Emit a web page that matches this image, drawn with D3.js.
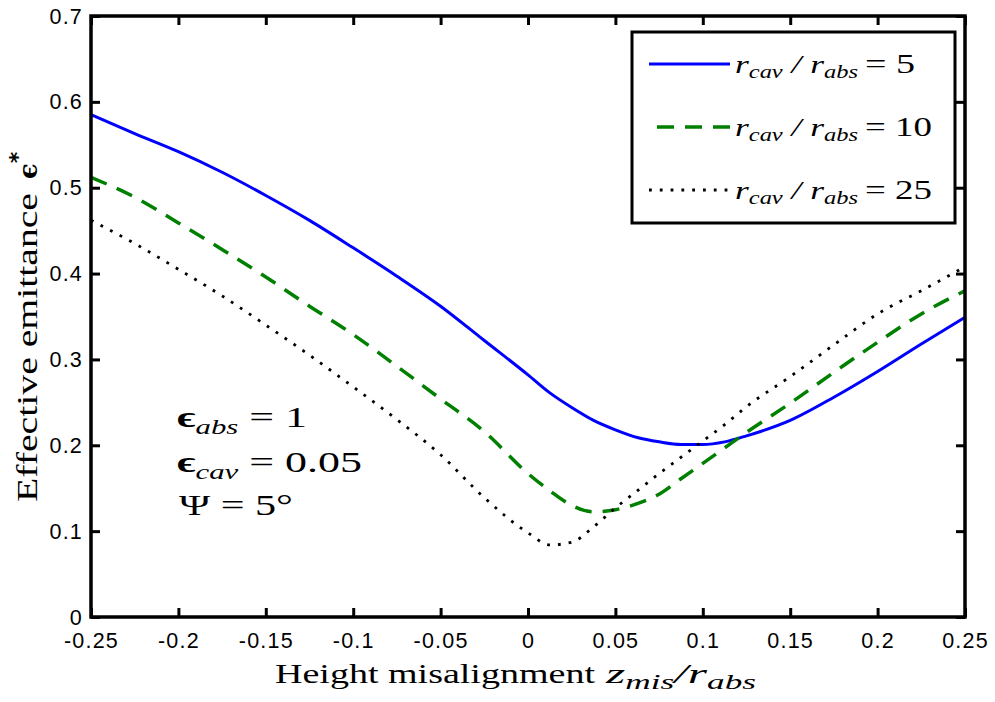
<!DOCTYPE html>
<html><head><meta charset="utf-8">
<script src="https://cdn.jsdelivr.net/npm/d3@7"></script>
<style>html,body{margin:0;padding:0;background:#fff;}</style>
</head><body>
<svg id="chart" width="995" height="702"></svg>
<script>
// ---- data ----
const xValues = [-0.25,-0.225,-0.2,-0.175,-0.15,-0.125,-0.1,-0.075,-0.05,-0.025,0,0.0125,0.025,0.0375,0.05,0.0625,0.075,0.0875,0.1,0.1125,0.125,0.15,0.175,0.2,0.225,0.25];
const ratio5  = [0.585,0.563,0.542,0.518,0.491,0.462,0.430,0.397,0.362,0.322,0.282,0.261,0.244,0.229,0.218,0.209,0.204,0.201,0.201,0.204,0.211,0.229,0.256,0.286,0.318,0.349];
const ratio10 = [0.512,0.489,0.459,0.428,0.396,0.362,0.329,0.292,0.254,0.216,0.167,0.147,0.130,0.1225,0.125,0.132,0.143,0.161,0.179,0.197,0.215,0.249,0.285,0.320,0.353,0.380];
const ratio25 = [0.462,0.435,0.405,0.374,0.340,0.305,0.268,0.230,0.189,0.139,0.098,0.084,0.087,0.105,0.127,0.147,0.167,0.186,0.205,0.224,0.245,0.280,0.317,0.353,0.380,0.408];
const seriesNames = ["5","10","25"];
const xTicks = [-0.25,-0.2,-0.15,-0.1,-0.05,0,0.05,0.1,0.15,0.2,0.25];
const xTickLabels = ["-0.25","-0.2","-0.15","-0.1","-0.05","0","0.05","0.1","0.15","0.2","0.25"];
const yTicks = [0,0.1,0.2,0.3,0.4,0.5,0.6,0.7];
const yTickLabels = ["0","0.1","0.2","0.3","0.4","0.5","0.6","0.7"];

// ---- layout ----
const L = 91, R = 965, T = 16, B = 617;
const svg = d3.select("#chart");
const x = d3.scaleLinear().domain([-0.25,0.25]).range([L,R]);
const y = d3.scaleLinear().domain([0,0.7]).range([B,T]);

const styles = [
  {color:"#0000ff", width:3,   dash:null},
  {color:"#008000", width:3.5, dash:"17,11"},
  {color:"#000000", width:2.8, dash:"2.8,8"}
];
const seriesData = [ratio5, ratio10, ratio25];

// curves
const line = d3.line().x(d=>x(d[0])).y(d=>y(d[1])).curve(d3.curveMonotoneX);
seriesData.forEach((vals,i)=>{
  const pts = xValues.map((xv,j)=>[xv, vals[j]]);
  const p = svg.append("path").datum(pts).attr("d", line)
    .attr("fill","none").attr("stroke", styles[i].color)
    .attr("stroke-width", styles[i].width).attr("stroke-linejoin","round");
  if (styles[i].dash) p.attr("stroke-dasharray", styles[i].dash);
});

// axes
function styleAxis(g){
  g.select(".domain").remove();
  g.selectAll(".tick line").attr("stroke","#000").attr("stroke-width",3);
}
const tickFont = "'Liberation Sans', Arial, sans-serif";
const xAxis = svg.append("g").attr("transform",`translate(0,${B})`)
  .call(d3.axisBottom(x).tickValues(xTicks).tickSizeInner(-9).tickSizeOuter(0)
        .tickFormat((d,i)=>xTickLabels[i]));
styleAxis(xAxis);
xAxis.selectAll(".tick text").attr("y",31).attr("dy",0)
  .attr("font-family",tickFont).attr("font-size",21.5)
  .attr("letter-spacing","1.2px").attr("fill","#000");

const xTop = svg.append("g").attr("transform",`translate(0,${T})`)
  .call(d3.axisTop(x).tickValues(xTicks).tickSizeInner(-9).tickSizeOuter(0).tickFormat(""));
styleAxis(xTop);

const yAxis = svg.append("g").attr("transform",`translate(${L},0)`)
  .call(d3.axisLeft(y).tickValues(yTicks).tickSizeInner(-9).tickSizeOuter(0)
        .tickFormat((d,i)=>yTickLabels[i]));
styleAxis(yAxis);
yAxis.selectAll(".tick text").attr("x",-8).attr("dy",7)
  .attr("font-family",tickFont).attr("font-size",21.5)
  .attr("letter-spacing","1.2px").attr("fill","#000");

const yRight = svg.append("g").attr("transform",`translate(${R},0)`)
  .call(d3.axisRight(y).tickValues(yTicks).tickSizeInner(-9).tickSizeOuter(0).tickFormat(""));
styleAxis(yRight);

// frame
svg.append("rect").attr("x",L).attr("y",T).attr("width",R-L).attr("height",B-T)
  .attr("fill","none").attr("stroke","#000").attr("stroke-width",3.5);

// x label
const serif = "'Liberation Serif', 'Times New Roman', serif";
svg.append("text").attr("x",275).attr("y",683).attr("font-family",serif).attr("font-size",28)
  .attr("textLength",320).attr("lengthAdjust","spacingAndGlyphs").text("Height misalignment");
const xm = svg.append("text").attr("x",606).attr("y",683).attr("font-family",serif)
  .attr("font-size",28).attr("font-style","italic")
  .attr("textLength",150).attr("lengthAdjust","spacingAndGlyphs");
xm.append("tspan").text("z");
xm.append("tspan").attr("font-size",20).attr("dy",6).text("mis");
xm.append("tspan").attr("dy",-6).text("/r");
xm.append("tspan").attr("font-size",20).attr("dy",6).text("abs");

// y label
const yl = svg.append("text").attr("transform","translate(37,502) rotate(-90)")
  .attr("font-family",serif).attr("font-size",29);
yl.append("tspan").attr("textLength",309).attr("lengthAdjust","spacingAndGlyphs").text("Effective emittance");
yl.append("tspan").attr("dx",14).attr("font-family","'DejaVu Serif', serif").attr("font-weight","bold")
  .attr("font-size",26).text("ϵ");
yl.append("tspan").attr("dy",-12).attr("font-family","'DejaVu Sans', sans-serif")
  .attr("font-weight","bold").attr("font-size",22).text("*");

// annotations
function annot(xp, yp, sym, sub, rest, len, bold){
  const t = svg.append("text").attr("x",xp).attr("y",yp).attr("font-family",serif)
    .attr("font-size",30).attr("textLength",len).attr("lengthAdjust","spacingAndGlyphs");
  t.append("tspan").attr("font-weight", bold ? "bold" : "normal").text(sym);
  if (sub){
    t.append("tspan").attr("font-style","italic").attr("font-size",21).attr("dy",7).text(sub);
    t.append("tspan").attr("dy",-7).text(" " + rest);
  } else {
    t.append("tspan").text(" " + rest);
  }
}
annot(177, 427, "ϵ", "abs", "= 1", 130, true);
annot(177, 472, "ϵ", "cav", "= 0.05", 185, true);
annot(179, 515, "Ψ", null, "= 5°", 114, false);

// legend
svg.append("rect").attr("x",632).attr("y",32).attr("width",323).attr("height",191)
  .attr("fill","#fff").attr("stroke","#000").attr("stroke-width",3);
const legY = [64,127,190];
const legEnds = [915,932,932];
seriesNames.forEach((name,i)=>{
  const ln = svg.append("line").attr("x1", i===1 ? 657 : 649).attr("x2",730)
    .attr("y1",legY[i]).attr("y2",legY[i])
    .attr("stroke",styles[i].color).attr("stroke-width",styles[i].width);
  if (styles[i].dash) ln.attr("stroke-dasharray", styles[i].dash);
  const t = svg.append("text").attr("x",735).attr("y",legY[i]+9).attr("font-family",serif)
    .attr("font-size",26).attr("font-style","italic")
    .attr("textLength",123).attr("lengthAdjust","spacingAndGlyphs");
  t.append("tspan").text("r");
  t.append("tspan").attr("font-size",18).attr("dy",5).text("cav");
  t.append("tspan").attr("dy",-5).text(" / r");
  t.append("tspan").attr("font-size",18).attr("dy",5).text("abs");
  svg.append("text").attr("x",865).attr("y",legY[i]+9).attr("font-family",serif)
    .attr("font-size",27).attr("textLength",legEnds[i]-865).attr("lengthAdjust","spacingAndGlyphs")
    .text("= " + name);
});
</script>
</body></html>
